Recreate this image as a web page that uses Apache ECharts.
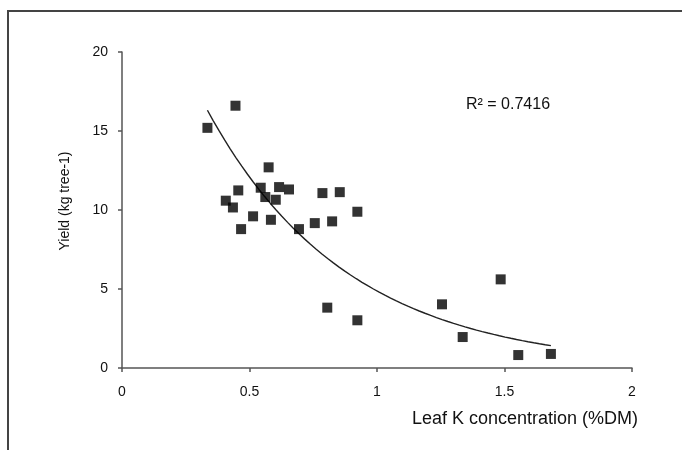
<!DOCTYPE html>
<html>
<head>
<meta charset="utf-8">
<script src="https://cdn.jsdelivr.net/npm/echarts@6/dist/echarts.min.js"></script>
<style>
html,body{margin:0;padding:0;background:#fff;}
#c{width:682px;height:450px;}
</style>
</head>
<body>
<div id="c"></div>
<script>
// Leaf K concentration (%DM)
var leafK = [0.335, 0.445, 0.575, 0.456, 0.407, 0.435, 0.544, 0.562, 0.603, 0.616, 0.655, 0.514, 0.584, 0.467, 0.694, 0.756, 0.786, 0.824, 0.854, 0.923, 1.485, 1.255, 1.336, 1.554, 1.682, 0.923, 0.805];
// Yield (kg tree-1)
var yieldKg = [15.2, 16.6, 12.7, 11.24, 10.59, 10.16, 11.41, 10.82, 10.65, 11.45, 11.3, 9.6, 9.38, 8.79, 8.79, 9.17, 11.07, 9.28, 11.13, 9.89, 5.61, 4.03, 1.96, 0.82, 0.89, 3.02, 3.82];
var xTicks = [0, 0.5, 1, 1.5, 2];
var yTicks = [0, 5, 10, 15, 20];
var r2Label = 'R\u00B2 = 0.7416';
var xTitle = 'Leaf K concentration (%DM)';
var yTitle = 'Yield (kg tree-1)';

// exponential trendline fitted to the data (least squares on ln y)
var n = leafK.length, sx = 0, sy = 0, sxx = 0, sxy = 0;
for (var i = 0; i < n; i++) {
  var ly = Math.log(yieldKg[i]);
  sx += leafK[i]; sy += ly; sxx += leafK[i] * leafK[i]; sxy += leafK[i] * ly;
}
var b = (n * sxy - sx * sy) / (n * sxx - sx * sx);
var a = Math.exp((sy - b * sx) / n);
var xMin = Math.min.apply(null, leafK), xMax = Math.max.apply(null, leafK);
var trend = [];
for (var k = 0; k <= 60; k++) {
  var xv = xMin + (xMax - xMin) * k / 60;
  trend.push([xv, a * Math.exp(b * xv)]);
}

var font = '"Liberation Sans", Arial, sans-serif';
var chart = echarts.init(document.getElementById('c'));
chart.setOption({
  animation: false,
  backgroundColor: '#fff',
  grid: {left: 122, right: 50, top: 52, bottom: 82},
  xAxis: {
    type: 'value', min: 0, max: 2, interval: 0.5,
    axisLine: {lineStyle: {color: '#555', width: 1.5}},
    axisTick: {show: true, length: 4, lineStyle: {color: '#555', width: 1.5}},
    axisLabel: {color: '#111', fontSize: 14, fontFamily: font, margin: 17,
      formatter: function (v) { return xTicks.indexOf(v) >= 0 ? String(v) : ''; }},
    splitLine: {show: false}
  },
  yAxis: {
    type: 'value', min: 0, max: 20, interval: 5,
    axisLine: {show: true, lineStyle: {color: '#555', width: 1.5}},
    axisTick: {show: true, length: 4, lineStyle: {color: '#555', width: 1.5}},
    axisLabel: {color: '#111', fontSize: 14, fontFamily: font, margin: 14,
      formatter: function (v) { return yTicks.indexOf(v) >= 0 ? String(v) : ''; }},
    splitLine: {show: false}
  },
  graphic: [
    {type: 'rect', shape: {x: 8, y: 11, width: 700, height: 470}, style: {fill: 'none', stroke: '#444', lineWidth: 2}, silent: true},
    {type: 'text', left: 466, top: 97, style: {text: r2Label, font: '16px ' + font, fill: '#111'}},
    {type: 'text', left: 412, top: 410, style: {text: xTitle, font: '18px ' + font, fill: '#111'}},
    {type: 'text', x: 65, y: 201, rotation: Math.PI / 2, style: {text: yTitle, font: '14px ' + font, fill: '#111', align: 'center', verticalAlign: 'middle'}}
  ],
  series: [
    {type: 'line', data: trend, showSymbol: false, smooth: false, lineStyle: {color: '#222', width: 1.4}, z: 1},
    {type: 'scatter', data: leafK.map(function (x, i) { return [x, yieldKg[i]]; }), symbol: 'rect', symbolSize: 10, itemStyle: {color: '#000'}, z: 2}
  ]
});
</script>
</body>
</html>
